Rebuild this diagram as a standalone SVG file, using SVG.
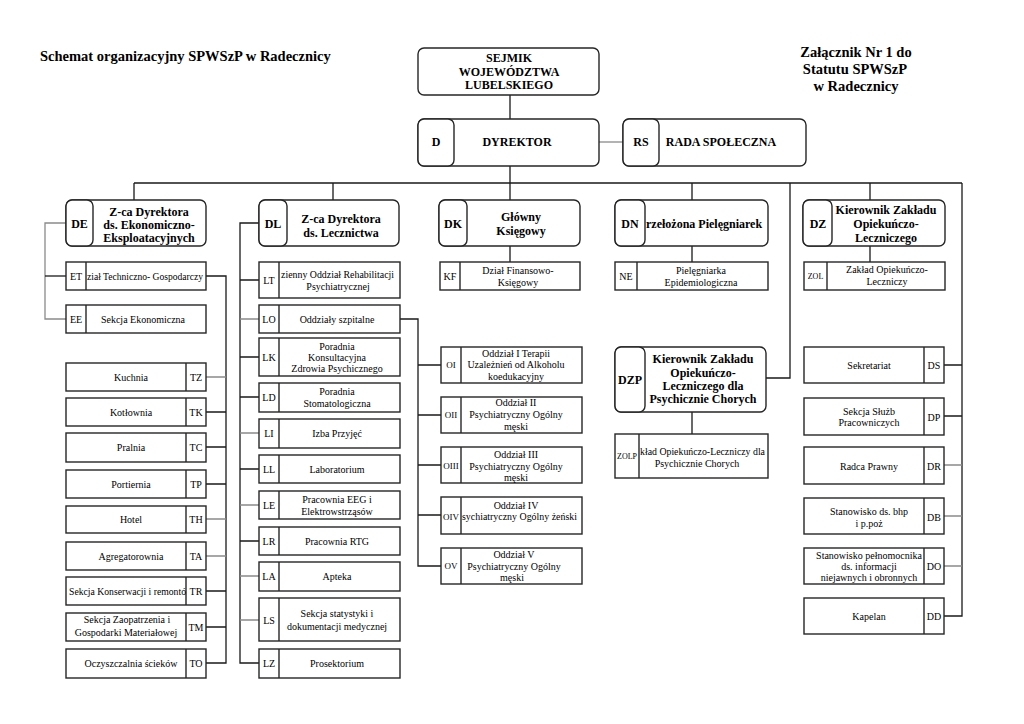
<svg xmlns="http://www.w3.org/2000/svg" width="1024" height="724" viewBox="0 0 1024 724">
<style>
.bx{fill:#fff;stroke:#262626;stroke-width:1.4}
.hd{fill:#fff;stroke:#262626;stroke-width:1.4}
.dv{stroke:#262626;stroke-width:1.4;fill:none}
.c{stroke:#1a1a1a;stroke-width:1.3;fill:none}
.cg{stroke:#8a8a8a;stroke-width:1.3;fill:none}
text{font-family:"Liberation Serif","Times New Roman",serif;fill:#000}
.t{font-size:10px;text-anchor:middle}
.ts{font-size:10px;text-anchor:start}
.l{font-size:10px;text-anchor:middle}
.l9{font-size:9px;text-anchor:middle}
.l8{font-size:8px;text-anchor:middle}
.h{font-size:12px;font-weight:bold;text-anchor:middle}
.hs{font-size:12px;font-weight:bold;text-anchor:start}
.ti{font-size:14.5px;font-weight:bold}
.tim{font-size:14.5px;font-weight:bold;text-anchor:middle}
</style>
<rect width="1024" height="724" fill="#fff"/>

<g id="titles">
<text class="ti" x="40" y="61">Schemat organizacyjny SPWSzP w Radecznicy</text>
<text class="tim" x="856" y="57">Załącznik Nr 1 do</text>
<text class="tim" x="855" y="74">Statutu SPWSzP</text>
<text class="tim" x="856" y="91">w Radecznicy</text>
</g>

<g id="connectors">
<path class="c" d="M510 95V119M510 166V200"/>
<path class="cg" d="M599 142H623"/>
<path class="c" d="M134 183H962M134 183V200M333 183V200M692 183V200M870 183V200"/>
<path class="c" d="M790 183V378H766"/>
<path class="c" d="M962 183V616H944"/>
<path class="c" d="M510 246V262M692 246V262M870 246V262M692 412V434"/>
<path class="cg" d="M66 223H45V319H66"/>
<path class="c" d="M45 276H66"/>
<path class="c" d="M206 276H226V663H206M206 412H226M206 447H226M206 484H226M206 591H226M206 627H226"/>
<path class="cg" d="M206 377H226M206 519H226M206 556H226"/>
<path class="c" d="M259 223H240V663H259M240 280H259M240 357H259M240 397H259M240 469H259M240 541H259"/>
<path class="cg" d="M240 319H259M240 433H259M240 505H259M240 576H259M240 620H259"/>
<path class="c" d="M400 319H418V566H441M418 365H441M418 415H441M418 465H441M418 515H441"/>
<path class="c" d="M944 365H962M944 416H962"/>
<path class="cg" d="M944 465H962M944 516H962M944 566H962"/>
</g>

<g id="SEJMIK">
<rect class="hd" x="418" y="48" width="181" height="47" rx="6"/>
<text class="h" x="509" y="62">SEJMIK</text>
<text class="h" x="509" y="76">WOJEWÓDZTWA</text>
<text class="h" x="509" y="89">LUBELSKIEGO</text>
</g>

<g id="D">
<rect class="hd" x="418" y="119" width="181" height="47" rx="6"/>
<rect class="hd" x="418" y="119" width="36" height="47" rx="6"/>
<text class="h" x="436" y="146">D</text>
<text class="h" x="517" y="146">DYREKTOR</text>
</g>

<g id="RS">
<rect class="hd" x="623" y="119" width="183" height="47" rx="6"/>
<rect class="hd" x="623" y="119" width="36" height="47" rx="6"/>
<text class="h" x="641" y="146">RS</text>
<text class="h" x="721" y="146">RADA SPOŁECZNA</text>
</g>

<g id="DE">
<rect class="hd" x="66" y="200" width="140" height="46" rx="6"/>
<rect class="hd" x="66" y="200" width="27" height="46" rx="6"/>
<text class="h" x="79.5" y="228">DE</text>
<text class="h" x="149" y="216">Z-ca Dyrektora</text>
<text class="h" x="149" y="229">ds. Ekonomiczno-</text>
<text class="h" x="149" y="242">Eksploatacyjnych</text>
</g>

<g id="DL">
<rect class="hd" x="259" y="200" width="140" height="46" rx="6"/>
<rect class="hd" x="259" y="200" width="28" height="46" rx="6"/>
<text class="h" x="273" y="228">DL</text>
<text class="h" x="341" y="223">Z-ca Dyrektora</text>
<text class="h" x="341" y="237">ds. Lecznictwa</text>
</g>

<g id="DK">
<rect class="hd" x="439" y="200" width="141" height="46" rx="6"/>
<rect class="hd" x="439" y="200" width="28" height="46" rx="6"/>
<text class="h" x="453" y="228">DK</text>
<text class="h" x="521" y="221">Główny</text>
<text class="h" x="521" y="235">Księgowy</text>
</g>

<g id="DN">
<rect class="hd" x="615" y="200" width="153" height="46" rx="6"/>
<rect class="hd" x="615" y="200" width="30" height="46" rx="6"/>
<text class="h" x="630" y="228">DN</text>
<text class="hs" x="646" y="228">rzełożona Pielęgniarek</text>
</g>

<g id="DZ">
<rect class="hd" x="803" y="200" width="142" height="46" rx="6"/>
<rect class="hd" x="803" y="200" width="29" height="46" rx="6"/>
<text class="h" x="818" y="228">DZ</text>
<text class="h" x="886" y="214">Kierownik Zakładu</text>
<text class="h" x="886" y="228">Opiekuńczo-</text>
<text class="h" x="886" y="242">Leczniczego</text>
</g>

<g id="DZP">
<rect class="hd" x="615" y="347" width="151" height="65" rx="6"/>
<rect class="hd" x="615" y="347" width="30" height="65" rx="6"/>
<text class="h" x="630" y="384">DZP</text>
<text class="h" x="703" y="363">Kierownik Zakładu</text>
<text class="h" x="703" y="377">Opiekuńczo-</text>
<text class="h" x="703" y="390">Leczniczego dla</text>
<text class="h" x="703" y="403">Psychicznie Chorych</text>
</g>

<g id="ET">
<rect class="bx" x="66" y="262" width="140" height="28"/><path class="dv" d="M86 262V290"/>
<text class="l" x="76" y="279.5">ET</text>
<text class="ts" x="87" y="279.5" textLength="116" lengthAdjust="spacingAndGlyphs">ział Techniczno- Gospodarczy</text>
</g>
<g id="EE">
<rect class="bx" x="66" y="305" width="140" height="28"/><path class="dv" d="M86 305V333"/>
<text class="l" x="76" y="322.5">EE</text>
<text class="t" x="143" y="322.5">Sekcja Ekonomiczna</text>
</g>

<g id="KF">
<rect class="bx" x="440" y="262" width="140" height="28"/><path class="dv" d="M460 262V290"/>
<text class="l" x="450" y="279.5">KF</text>
<text class="t" x="518" y="274">Dział Finansowo-</text>
<text class="t" x="518" y="285.5">Księgowy</text>
</g>
<g id="NE">
<rect class="bx" x="615" y="262" width="153" height="28"/><path class="dv" d="M637 262V290"/>
<text class="l" x="626" y="279.5">NE</text>
<text class="t" x="701" y="274">Pielęgniarka</text>
<text class="t" x="701" y="285.5">Epidemiologiczna</text>
</g>
<g id="ZOL">
<rect class="bx" x="804" y="262" width="141" height="28"/><path class="dv" d="M827 262V290"/>
<text class="l8" x="815.5" y="279">ZOL</text>
<text class="t" x="887" y="272.5">Zakład Opiekuńczo-</text>
<text class="t" x="887" y="284.5">Leczniczy</text>
</g>
<g id="ZOLP">
<rect class="bx" x="615" y="434" width="153" height="44"/><path class="dv" d="M639 434V478"/>
<text class="l8" x="627" y="459">ZOLP</text>
<text class="ts" x="640" y="454.5" textLength="125" lengthAdjust="spacingAndGlyphs">kład Opiekuńczo-Leczniczy dla</text>
<text class="t" x="697" y="466.5">Psychicznie Chorych</text>
</g>

<g id="LT">
<rect class="bx" x="259" y="262" width="141" height="36"/><path class="dv" d="M279 262V298"/>
<text class="l" x="269" y="284">LT</text>
<text class="ts" x="281" y="277.5" textLength="113" lengthAdjust="spacingAndGlyphs">zienny Oddział Rehabilitacji</text>
<text class="t" x="338" y="289.5">Psychiatrycznej</text>
</g>
<g id="LO">
<rect class="bx" x="259" y="305" width="141" height="28"/><path class="dv" d="M279 305V333"/>
<text class="l" x="269" y="322.5">LO</text>
<text class="t" x="337" y="322.5">Oddziały szpitalne</text>
</g>
<g id="LK">
<rect class="bx" x="259" y="338" width="141" height="38"/><path class="dv" d="M279 338V376"/>
<text class="l" x="269" y="360.5">LK</text>
<text class="t" x="337" y="349.5">Poradnia</text>
<text class="t" x="337" y="360.5">Konsultacyjna</text>
<text class="t" x="337" y="371.5">Zdrowia Psychicznego</text>
</g>
<g id="LD">
<rect class="bx" x="259" y="383" width="141" height="29"/><path class="dv" d="M279 383V412"/>
<text class="l" x="269" y="400.5">LD</text>
<text class="t" x="337" y="395">Poradnia</text>
<text class="t" x="337" y="406.5">Stomatologiczna</text>
</g>
<g id="LI">
<rect class="bx" x="259" y="419" width="141" height="29"/><path class="dv" d="M279 419V448"/>
<text class="l" x="269" y="436.5">LI</text>
<text class="t" x="337" y="436.5">Izba Przyjęć</text>
</g>
<g id="LL">
<rect class="bx" x="259" y="455" width="141" height="28"/><path class="dv" d="M279 455V483"/>
<text class="l" x="269" y="472.5">LL</text>
<text class="t" x="337" y="472.5">Laboratorium</text>
</g>
<g id="LE">
<rect class="bx" x="259" y="491" width="141" height="28"/><path class="dv" d="M279 491V519"/>
<text class="l" x="269" y="508.5">LE</text>
<text class="t" x="337" y="503">Pracownia EEG i</text>
<text class="t" x="337" y="514.5">Elektrowstrząsów</text>
</g>
<g id="LR">
<rect class="bx" x="259" y="527" width="141" height="28"/><path class="dv" d="M279 527V555"/>
<text class="l" x="269" y="544.5">LR</text>
<text class="t" x="337" y="544.5">Pracownia RTG</text>
</g>
<g id="LA">
<rect class="bx" x="259" y="562" width="141" height="29"/><path class="dv" d="M279 562V591"/>
<text class="l" x="269" y="579.5">LA</text>
<text class="t" x="337" y="579.5">Apteka</text>
</g>
<g id="LS">
<rect class="bx" x="259" y="598" width="141" height="43"/><path class="dv" d="M279 598V641"/>
<text class="l" x="269" y="623.5">LS</text>
<text class="t" x="337" y="616.5">Sekcja statystyki i</text>
<text class="t" x="337" y="629.5">dokumentacji medycznej</text>
</g>
<g id="LZ">
<rect class="bx" x="259" y="649" width="141" height="29"/><path class="dv" d="M279 649V678"/>
<text class="l" x="269" y="666.5">LZ</text>
<text class="t" x="337" y="666.5">Prosektorium</text>
</g>

<g id="TZ">
<rect class="bx" x="66" y="363" width="140" height="28"/><path class="dv" d="M186 363V391"/>
<text class="t" x="131" y="380.5">Kuchnia</text><text class="l" x="196" y="380.5">TZ</text>
</g>
<g id="TK">
<rect class="bx" x="66" y="398" width="140" height="28"/><path class="dv" d="M186 398V426"/>
<text class="t" x="131" y="415.5">Kotłownia</text><text class="l" x="196" y="415.5">TK</text>
</g>
<g id="TC">
<rect class="bx" x="66" y="433" width="140" height="29"/><path class="dv" d="M186 433V462"/>
<text class="t" x="131" y="450.5">Pralnia</text><text class="l" x="196" y="450.5">TC</text>
</g>
<g id="TP">
<rect class="bx" x="66" y="470" width="140" height="28"/><path class="dv" d="M186 470V498"/>
<text class="t" x="131" y="487.5">Portiernia</text><text class="l" x="196" y="487.5">TP</text>
</g>
<g id="TH">
<rect class="bx" x="66" y="506" width="140" height="27"/><path class="dv" d="M186 506V533"/>
<text class="t" x="131" y="522.5">Hotel</text><text class="l" x="196" y="522.5">TH</text>
</g>
<g id="TA">
<rect class="bx" x="66" y="542" width="140" height="28"/><path class="dv" d="M186 542V570"/>
<text class="t" x="131" y="559.5">Agregatorownia</text><text class="l" x="196" y="559.5">TA</text>
</g>
<g id="TR">
<rect class="bx" x="66" y="577" width="140" height="28"/><path class="dv" d="M186 577V605"/>
<text class="ts" x="69" y="594.5" textLength="117" lengthAdjust="spacingAndGlyphs">Sekcja Konserwacji i remontó</text><text class="l" x="196" y="594.5">TR</text>
</g>
<g id="TM">
<rect class="bx" x="66" y="613" width="140" height="28"/><path class="dv" d="M186 613V641"/>
<text class="t" x="127" y="623">Sekcja Zaopatrzenia  i</text>
<text class="t" x="126" y="635.5">Gospodarki Materiałowej</text>
<text class="l" x="196" y="630.5">TM</text>
</g>
<g id="TO">
<rect class="bx" x="66" y="649" width="140" height="29"/><path class="dv" d="M186 649V678"/>
<text class="t" x="131" y="666.5">Oczyszczalnia ścieków</text><text class="l" x="196" y="666.5">TO</text>
</g>

<g id="OI">
<rect class="bx" x="441" y="347" width="141" height="36"/><path class="dv" d="M461 347V383"/>
<text class="l9" x="451" y="368">OI</text>
<text class="t" x="516" y="356.5">Oddział I  Terapii</text>
<text class="t" x="516" y="368">Uzależnień  od Alkoholu</text>
<text class="t" x="516" y="379.5">koedukacyjny</text>
</g>
<g id="OII">
<rect class="bx" x="441" y="397" width="141" height="36"/><path class="dv" d="M461 397V433"/>
<text class="l9" x="451" y="418">OII</text>
<text class="t" x="516" y="406">Oddział II</text>
<text class="t" x="516" y="418">Psychiatryczny Ogólny</text>
<text class="t" x="516" y="430">męski</text>
</g>
<g id="OIII">
<rect class="bx" x="441" y="447" width="141" height="36"/><path class="dv" d="M461 447V483"/>
<text class="l9" x="451" y="469">OIII</text>
<text class="t" x="516" y="457.5">Oddział III</text>
<text class="t" x="516" y="469.5">Psychiatryczny Ogólny</text>
<text class="t" x="516" y="480.5">męski</text>
</g>
<g id="OIV">
<rect class="bx" x="441" y="497" width="141" height="37"/><path class="dv" d="M461 497V534"/>
<text class="l9" x="451" y="519.5">OIV</text>
<text class="t" x="516" y="508.5">Oddział IV</text>
<text class="ts" x="462" y="519.5" textLength="115" lengthAdjust="spacingAndGlyphs">sychiatryczny Ogólny  żeński</text>
</g>
<g id="OV">
<rect class="bx" x="441" y="548" width="141" height="36"/><path class="dv" d="M461 548V584"/>
<text class="l9" x="451" y="569">OV</text>
<text class="t" x="514" y="557.5">Oddział V</text>
<text class="t" x="514" y="569.5">Psychiatryczny Ogólny</text>
<text class="t" x="512" y="580.5">męski</text>
</g>

<g id="DS">
<rect class="bx" x="804" y="347" width="140" height="36"/><path class="dv" d="M924 347V383"/>
<text class="t" x="869" y="368.5">Sekretariat</text><text class="l" x="934" y="368.5">DS</text>
</g>
<g id="DP">
<rect class="bx" x="804" y="398" width="140" height="37"/><path class="dv" d="M924 398V435"/>
<text class="t" x="869" y="414.5">Sekcja Służb</text>
<text class="t" x="869" y="425.5">Pracowniczych</text>
<text class="l" x="934" y="420.5">DP</text>
</g>
<g id="DR">
<rect class="bx" x="804" y="447" width="140" height="37"/><path class="dv" d="M924 447V484"/>
<text class="t" x="869" y="469.5">Radca Prawny</text><text class="l" x="934" y="469.5">DR</text>
</g>
<g id="DB">
<rect class="bx" x="804" y="498" width="140" height="36"/><path class="dv" d="M924 498V534"/>
<text class="t" x="869" y="514.5">Stanowisko ds. bhp</text>
<text class="t" x="869" y="526.5">i p.poż</text>
<text class="l" x="934" y="520.5">DB</text>
</g>
<g id="DO">
<rect class="bx" x="804" y="548" width="140" height="36"/><path class="dv" d="M924 548V584"/>
<text class="t" x="869" y="558.5">Stanowisko pełnomocnika</text>
<text class="t" x="869" y="569.5">ds. informacji</text>
<text class="t" x="869" y="580.5">niejawnych i obronnych</text>
<text class="l" x="934" y="569.5">DO</text>
</g>
<g id="DD">
<rect class="bx" x="804" y="598" width="140" height="36"/><path class="dv" d="M924 598V634"/>
<text class="t" x="869" y="620">Kapelan</text><text class="l" x="934" y="620">DD</text>
</g>
</svg>
